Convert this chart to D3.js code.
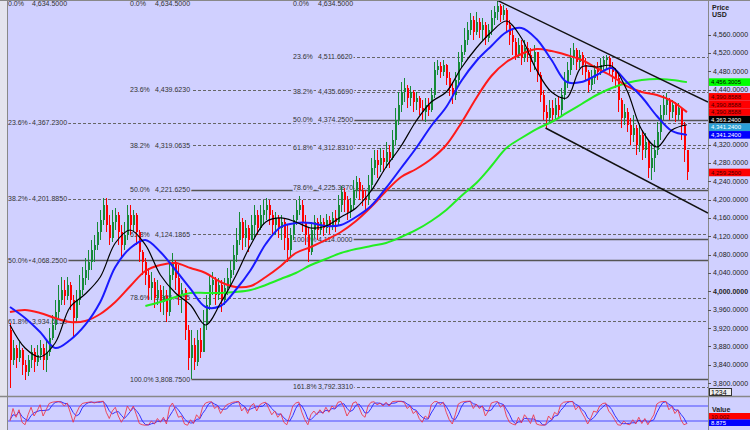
<!DOCTYPE html>
<html><head><meta charset="utf-8">
<script src="https://cdn.jsdelivr.net/npm/d3@7"></script>
<style>body{margin:0;background:#fff}svg{display:block}text{font-family:"Liberation Sans",Arial,sans-serif}</style>
</head><body>
<svg id="c" width="750" height="430"></svg>
<script>
// ---------- DATA ----------
const firstOpen = 3915.7;
const closes = [3850.3,3876.4,3854.6,3872.1,3839.4,3824.1,3850.3,3867.7,3845.9,3861.2,3876.4,3850.3,3867.7,3898.2,3926.6,3954.9,3981.1,4002.9,3989.8,4013.8,
3981.1,3941.8,3981.1,4002.9,4029.1,4046.5,4064.0,4090.2,4101.1,4129.4,4155.6,4188.3,4144.7,4116.3,4151.2,4166.5,4129.4,4101.1,4122.9,4166.5,
4144.7,4166.5,4129.4,4085.8,4064.0,4035.6,4007.3,4020.4,3985.5,4002.9,3976.7,3989.8,3954.9,4035.6,4064.0,4029.1,3992.0,4002.9,3915.7,3854.6,
3883.0,3845.9,3893.9,3867.7,3926.6,3970.2,4013.8,4024.7,3992.0,4013.8,3981.1,4007.3,4029.1,4046.5,4079.3,4112.0,4151.2,4116.3,4138.1,4112.0,
4144.7,4166.5,4138.1,4166.5,4177.4,4188.3,4166.5,4144.7,4160.0,4138.1,4151.2,4116.3,4090.2,4122.9,4155.6,4177.4,4188.3,4151.2,4122.9,4085.8,
4133.8,4151.2,4133.8,4151.2,4138.1,4155.6,4142.5,4160.0,4151.2,4188.3,4216.6,4199.2,4173.0,4188.3,4221.0,4238.5,4221.0,4203.6,4199.2,4231.9,
4269.0,4286.4,4275.5,4290.8,4282.1,4303.9,4290.8,4330.1,4373.7,4406.4,4434.7,4443.5,4421.7,4434.7,4412.9,4421.7,4399.9,4391.1,4406.4,4395.5,
4428.2,4482.7,4491.5,4478.4,4493.6,4465.3,4443.5,4428.2,4460.9,4500.2,4522.0,4548.2,4570.0,4591.8,4565.6,4587.4,4570.0,4580.9,4552.5,4570.0,
4596.1,4609.2,4622.3,4602.7,4613.6,4580.9,4559.1,4543.8,4515.4,4537.3,4508.9,4530.7,4515.4,4500.2,4522.0,4471.8,4428.2,4391.1,4378.0,4399.9,
4384.6,4406.4,4395.5,4428.2,4456.6,4482.7,4508.9,4526.4,4500.2,4515.4,4493.6,4478.4,4450.0,4465.3,4482.7,4478.4,4493.6,4504.5,4508.9,4487.1,
4478.4,4465.3,4417.3,4378.0,4391.1,4362.8,4341.0,4356.2,4319.1,4341.0,4308.2,4325.7,4269.0,4290.8,4308.2,4347.5,4384.6,4406.4,4417.3,4391.1,
4406.4,4384.6,4399.9,4362.8,4308.2,4259.25];
const highs = [3931.0,3893.9,3883.0,3889.5,3876.4,3850.3,3861.2,3883.0,3876.4,3883.0,3893.9,3885.2,3893.9,3920.1,3948.4,3981.1,4013.8,4031.3,4024.7,4031.3,
4020.4,3992.0,4002.9,4035.6,4053.1,4072.7,4090.2,4112.0,4122.9,4151.2,4177.4,4203.6,4203.0,4166.5,4177.4,4181.8,4173.0,4144.7,4151.2,4188.3,
4188.3,4177.4,4170.8,4133.8,4090.2,4072.7,4050.9,4042.2,4029.1,4024.7,4013.8,4011.6,4002.9,4064.0,4083.6,4068.3,4057.4,4018.2,4007.3,3926.6,
3915.7,3898.2,3915.7,3920.1,3959.3,3992.0,4035.6,4042.2,4031.3,4029.1,4024.7,4029.1,4050.9,4068.3,4101.1,4138.1,4173.0,4160.0,4155.6,4144.7,
4166.5,4188.3,4177.4,4188.3,4199.2,4203.6,4199.2,4177.4,4173.0,4166.5,4166.5,4160.0,4144.7,4138.1,4166.5,4199.2,4207.9,4199.2,4166.5,4138.1,
4151.2,4166.5,4160.0,4166.5,4160.0,4168.7,4164.3,4173.0,4177.4,4210.1,4229.7,4225.4,4207.9,4203.6,4242.8,4251.5,4247.2,4231.9,4221.0,4253.7,
4290.8,4308.2,4308.2,4312.6,4308.2,4325.7,4319.1,4351.9,4399.9,4434.7,4456.6,4465.3,4450.0,4447.8,4439.1,4434.7,4426.0,4417.3,4421.7,4421.7,
4443.5,4500.2,4504.5,4500.2,4504.5,4495.8,4478.4,4456.6,4478.4,4522.0,4537.3,4574.3,4587.4,4607.0,4600.5,4609.2,4596.1,4596.1,4587.4,4583.1,
4613.6,4622.3,4634.5,4626.7,4624.5,4618.0,4591.8,4570.0,4552.5,4552.5,4548.2,4548.2,4543.8,4530.7,4537.3,4515.4,4478.4,4439.1,4406.4,4417.3,
4417.3,4421.7,4426.0,4443.5,4478.4,4500.2,4530.7,4541.6,4530.7,4526.4,4522.0,4508.9,4482.7,4482.7,4493.6,4500.2,4508.9,4513.3,4515.4,4513.3,
4500.2,4487.1,4471.8,4421.7,4408.6,4399.9,4378.0,4384.6,4362.8,4362.8,4351.9,4345.3,4330.1,4319.1,4330.1,4369.3,4406.4,4428.2,4432.6,4421.7,
4417.3,4413.0,4410.8,4395.5,4369.3,4308.2];
const lows = [3789.2,3839.4,3832.8,3845.9,3817.5,3806.6,3815.3,3832.8,3824.1,3837.1,3850.3,3828.4,3824.1,3859.0,3893.9,3915.7,3941.8,3970.2,3970.2,3981.1,
3959.3,3900.4,3933.1,3970.2,3992.0,4013.8,4024.7,4046.5,4064.0,4090.2,4112.0,4144.7,4129.4,4101.1,4107.6,4133.8,4101.1,4074.9,4090.2,4112.0,
4122.9,4129.4,4101.1,4064.0,4035.6,4013.8,3981.1,3981.1,3963.7,3970.2,3954.9,3948.4,3933.1,3946.2,4024.7,4002.9,3970.2,3952.8,3893.9,3828.4,
3808.75,3828.4,3837.1,3854.6,3872.1,3915.7,3959.3,3992.0,3970.2,3981.1,3954.9,3970.2,3992.0,4013.8,4035.6,4064.0,4101.1,4090.2,4096.7,4085.8,
4112.0,4118.5,4122.9,4133.8,4144.7,4155.6,4144.7,4122.9,4122.9,4116.3,4112.0,4090.2,4064.0,4072.7,4112.0,4144.7,4166.5,4129.4,4101.1,4064.0,
4079.3,4116.3,4112.0,4122.9,4120.7,4127.2,4125.1,4133.8,4129.4,4144.7,4173.0,4173.0,4155.6,4160.0,4177.4,4203.6,4199.2,4186.1,4177.4,4188.3,
4221.0,4253.7,4247.2,4260.3,4260.3,4269.0,4269.0,4286.4,4319.1,4362.8,4391.1,4412.9,4399.9,4404.2,4391.1,4395.5,4384.6,4373.7,4369.3,4382.4,
4391.1,4421.7,4471.8,4465.3,4469.6,4450.0,4426.0,4408.6,4417.3,4450.0,4487.1,4515.4,4537.3,4559.1,4548.2,4559.1,4552.5,4548.2,4537.3,4543.8,
4559.1,4580.9,4591.8,4587.4,4591.8,4565.6,4537.3,4515.4,4504.5,4508.9,4493.6,4500.2,4500.2,4478.4,4482.7,4456.6,4412.9,4373.7,4356.2,4369.3,
4369.3,4373.7,4378.0,4384.6,4417.3,4443.5,4471.8,4493.6,4482.7,4487.1,4471.8,4460.9,4434.7,4439.1,4452.2,4460.9,4471.8,4478.4,4482.7,4471.8,
4456.6,4443.5,4391.1,4356.2,4362.8,4347.5,4319.1,4325.7,4297.3,4303.9,4286.4,4290.8,4247.2,4242.8,4260.3,4297.3,4330.1,4373.7,4384.6,4373.7,
4378.0,4369.3,4373.7,4330.1,4282.1,4242.8];

// moving averages, one value every 5 bars
const maStep = 5;
const maBlack = [3926.6,3876.4,3856.8,3887.3,3965.8,3994.2,4031.3,4105.4,4133.8,4101.1,4035.6,3996.4,3970.2,3926.6,3974.5,4033.4,4101.1,4151.2,4160.0,4151.2,
4138.1,4142.5,4162.1,4181.8,4218.8,4271.2,4317.0,4371.5,4412.9,4434.7,4487.1,4530.7,4565.6,4589.6,4552.5,4482.7,4434.7,4421.7,4489.3,4489.3,
4491.5,4439.1,4351.9,4314.8,4351.9,4363.24];
const maBlue = [3965.8,3941.8,3911.3,3876.4,3893.9,3926.6,3976.7,4053.1,4094.5,4112.0,4085.8,4046.5,4005.1,3965.8,3968.0,4002.9,4046.5,4103.2,4140.3,4149.0,
4149.0,4142.5,4144.7,4162.1,4186.1,4225.4,4269.0,4312.6,4360.6,4402.0,4458.7,4502.4,4535.1,4565.6,4574.3,4550.3,4504.5,4456.6,4456.6,4471.8,
4487.1,4456.6,4423.8,4382.4,4349.7,4341.24];
const maRed = [3954.9,3959.3,3952.8,3941.8,3933.1,3935.3,3950.6,3976.7,4011.6,4044.4,4057.4,4061.8,4050.9,4040.0,4020.4,4009.5,4011.6,4031.3,4055.3,4083.6,
4096.7,4112.0,4129.4,4153.4,4183.9,4218.8,4249.4,4266.8,4288.6,4319.1,4367.1,4421.7,4469.6,4500.2,4517.6,4528.5,4524.1,4515.4,4504.5,4487.1,
4469.6,4447.8,4434.7,4428.2,4415.1,4390.8588];
const maGreen = [null,null,null,null,null,null,null,null,null,3968.0,3976.7,3987.6,3996.4,3996.4,3996.4,3998.5,4002.9,4013.8,4026.9,4040.0,
4057.4,4070.5,4083.6,4092.3,4098.9,4105.4,4118.5,4133.8,4153.4,4177.4,4207.9,4236.3,4273.3,4312.6,4334.4,4354.0,4369.3,4389.0,4408.6,4428.2,
4443.5,4454.4,4460.9,4463.1,4460.9,4456.3005];

// oscillator (%K red, %D blue), one value per bar
const oscK = [20,70,35,65,15,5,45,75,40,60,85,40,65,90,95,97,98,95,80,92,55,15,50,75,90,93,95,97,92,96,98,99,55,30,60,75,40,15,35,80,
60,80,45,10,5,3,5,20,8,30,15,35,8,75,92,65,35,40,8,3,25,10,45,30,75,92,96,97,70,80,50,70,85,90,95,97,98,60,75,50,
80,90,60,85,92,95,70,45,60,35,50,15,5,40,80,92,96,55,25,5,45,60,45,65,50,75,55,80,70,95,98,75,40,60,92,97,75,45,35,80,
95,97,85,92,80,95,80,97,99,99,98,95,70,80,50,60,30,15,40,30,85,97,98,85,95,55,25,8,45,88,95,98,99,99,70,88,70,80,40,60,
92,96,98,75,85,40,15,8,4,35,12,45,30,10,45,8,4,3,5,40,25,55,45,85,95,97,98,98,65,80,55,35,8,30,60,55,80,90,92,60,
45,25,5,3,20,8,5,25,8,35,10,30,5,25,45,88,96,98,98,65,78,50,65,25,5,10.002];
const oscD = [25,45,42,57,38,28,22,42,53,58,62,62,63,65,83,94,97,97,91,89,76,54,40,47,72,86,93,95,95,95,95,98,84,61,48,55,58,43,30,43,
58,73,62,45,20,6,4,9,11,19,18,27,19,39,58,77,64,47,28,17,12,13,27,28,50,66,88,95,88,82,67,67,68,82,90,94,97,85,78,62,
68,73,77,78,79,91,86,70,58,47,48,33,23,20,42,71,89,81,59,28,25,37,50,57,53,63,60,70,68,82,88,89,71,58,64,83,88,72,52,53,
70,91,92,91,86,89,85,91,92,98,99,97,88,82,67,63,47,35,28,28,52,71,93,93,93,78,58,29,26,47,76,94,97,99,89,86,76,79,63,60,
64,83,95,90,86,67,47,21,9,16,17,31,29,28,28,21,19,5,4,16,23,40,42,62,75,92,97,98,87,81,67,57,33,24,33,48,65,75,87,81,
66,43,25,11,9,10,11,13,13,23,18,25,15,20,25,53,76,94,97,87,80,64,64,47,32,8.875];

// Fibonacci sets
const fibPcts  = [0, 23.6, 38.2, 50, 61.8, 78.6, 100, 161.8];
const fibAPrice = [4634.5, 4367.23, 4201.885, 4068.25, 3934.615];
const fibBPrice = [4634.5, 4439.623, 4319.0635, 4221.625, 4124.1865, 3985.4555, 3808.75];
const fibCPrice = [4634.5, 4511.662, 4435.669, 4374.25, 4312.831, 4225.387, 4114.0, 3792.331];
const solidPcts = [50, 100];

// trend lines [bar index, price]
const trendUpper = [[162, 4634.5], [232, 4413.0]];
const trendLower = [[178, 4356.2], [232, 4170.8]];

// visible price-axis labels (4,360 / 4,400 / 4,600 are hidden behind value boxes / header)
const axisTicks = [3800,3840,3880,3920,3960,4000,4040,4080,4120,4160,4200,4240,4280,4320,4440,4480,4520,4560];
const boldTick = 4000;
// last values shown on the price axis
const lastValues = [4456.3005, 4390.8588, 4390.8588, 4390.8588, 4363.24, 4341.24, 4341.24, 4259.25];
const lastColors = ['#00ff00','#ff0000','#ff0000','#ff0000','#000000','#2a9fd6','#0000ff','#ff0000'];
const lastText   = ['#000','#400','#400','#400','#fff','#fff','#fff','#400'];
const oscLast = [10.002, 8.875];

// ---------- DRAW ----------
const W = 750, H = 430, bg = '#D0D0FF';
const svg = d3.select('#c');
svg.append('rect').attr('width', W).attr('height', H).attr('fill', bg);
svg.append('rect').attr('width', 7).attr('height', H).attr('fill', '#e4e4ee');

const defs = svg.append('defs');
defs.append('clipPath').attr('id','cm').append('rect').attr('x',8).attr('y',0).attr('width',700).attr('height',396);
defs.append('clipPath').attr('id','co').append('rect').attr('x',8).attr('y',397).attr('width',700).attr('height',33);

const x = d3.scaleLinear().domain([0, 232]).range([10, 708]);
const y = d3.scaleLinear().domain([3771.7, 4635.4]).range([396, 0]);
const yo = d3.scaleLinear().domain([0, 100]).range([426, 401]);
const fmt = d3.format(',.4f');

const main = svg.append('g').attr('clip-path','url(#cm)');

function drawFib(prices, pctX, priceX, lineX0) {
  prices.forEach((p, k) => {
    const pct = fibPcts[k];
    const yy = Math.round(y(p)) + 0.5;
    const solid = solidPcts.includes(pct);
    main.append('line').attr('x1', lineX0).attr('x2', 708).attr('y1', yy).attr('y2', yy)
      .attr('stroke', solid ? '#555' : '#666').attr('stroke-width', solid ? 1.3 : 1)
      .attr('stroke-dasharray', solid ? null : '3,2');
    const ty = Math.max(y(p) + 2.5, 5.5);
    const t = main.append('g').attr('font-size', 7).attr('fill', '#333')
      .attr('stroke', bg).attr('stroke-width', 3).attr('paint-order', 'stroke');
    t.append('text').attr('x', pctX).attr('y', ty).text(d3.format('.1f')(pct) + '%');
    t.append('text').attr('x', priceX).attr('y', ty).text(fmt(p));
  });
}
drawFib(fibAPrice, 8, 32, 8);
drawFib(fibBPrice, 130, 155, 188);
drawFib(fibCPrice, 293, 318, 352);

// candles
const bars = closes.map((c, i) => {
  const o = i === 0 ? firstOpen : closes[i - 1];
  return { i, o, c, h: Math.max(highs[i], o, c), l: Math.min(lows[i], o, c) };
});
const cg = main.append('g').attr('shape-rendering', 'crispEdges');
bars.forEach(b => {
  const col = b.c >= b.o ? '#168a38' : '#ff0000';
  const xx = Math.round(x(b.i));
  cg.append('line').attr('x1', xx + 0.5).attr('x2', xx + 0.5).attr('y1', y(b.h)).attr('y2', y(b.l)).attr('stroke', col);
  const top = y(Math.max(b.o, b.c)), bot = y(Math.min(b.o, b.c));
  cg.append('rect').attr('x', xx - 0.5).attr('width', 2).attr('y', top).attr('height', Math.max(1, bot - top)).attr('fill', col);
});

// moving averages
function maLine(vals, color, w) {
  const line = d3.line().defined(d => d != null)
    .x((d, k) => x(k * maStep)).y(d => y(d)).curve(d3.curveCatmullRom.alpha(0.5));
  main.append('path').datum(vals).attr('d', line).attr('fill', 'none').attr('stroke', color).attr('stroke-width', w);
}
maLine(maGreen, '#22ee22', 2);
maLine(maRed, '#ff1a1a', 2);
maLine(maBlue, '#1a1aff', 2);
maLine(maBlack, '#000', 1.2);

// trendlines
[trendUpper, trendLower].forEach(t => {
  main.append('line').attr('x1', x(t[0][0])).attr('y1', y(t[0][1])).attr('x2', x(t[1][0])).attr('y2', y(t[1][1]))
    .attr('stroke', '#111').attr('stroke-width', 1.5);
});

// oscillator panel
const osc = svg.append('g').attr('clip-path','url(#co)');
[20, 80].forEach(v => osc.append('line').attr('x1', 8).attr('x2', 708).attr('y1', yo(v)).attr('y2', yo(v))
  .attr('stroke', '#4a4aff').attr('stroke-width', 1));
const ol = d3.line().x((d, i) => x(i)).y(d => yo(d));
osc.append('path').datum(oscD).attr('d', ol).attr('fill', 'none').attr('stroke', '#3333ff').attr('stroke-width', 1);
osc.append('path').datum(oscK).attr('d', ol).attr('fill', 'none').attr('stroke', '#ee3344').attr('stroke-width', 1).attr('opacity', 0.85);

// frame lines
svg.append('line').attr('x1', 7.5).attr('x2', 7.5).attr('y1', 0).attr('y2', H).attr('stroke', '#888');
svg.append('line').attr('x1', 0).attr('x2', W).attr('y1', 0.5).attr('y2', 0.5).attr('stroke', '#888');
svg.append('line').attr('x1', 0).attr('x2', W).attr('y1', 396.5).attr('y2', 396.5).attr('stroke', '#888').attr('stroke-width', 1.5);
svg.append('line').attr('x1', 708.5).attr('x2', 708.5).attr('y1', 0).attr('y2', H).attr('stroke', '#888');

// price axis
const ax = svg.append('g').attr('font-size', 7).attr('fill', '#222');
axisTicks.forEach(v => {
  const yy = Math.round(y(v)) + 0.5;
  ax.append('line').attr('x1', 708).attr('x2', 711).attr('y1', yy).attr('y2', yy).attr('stroke', '#555');
  ax.append('text').attr('x', 713).attr('y', y(v) + 2.5).attr('font-weight', v === boldTick ? 'bold' : null).text(fmt(v));
});
ax.append('text').attr('x', 712).attr('y', 10).attr('font-weight', 'bold').text('Price');
ax.append('text').attr('x', 712).attr('y', 17).attr('font-weight', 'bold').text('USD');

// last-value boxes, stacked upward when they collide
const bh = 7.6;
const order = d3.range(lastValues.length).sort((a, b) => d3.ascending(lastValues[a], lastValues[b]) || (b - a));
let prev = Infinity;
const pos = [];
order.forEach(k => { const cy = Math.min(y(lastValues[k]), prev - bh); pos[k] = cy; prev = cy; });
lastValues.forEach((v, k) => {
  svg.append('rect').attr('x', 709).attr('y', pos[k] - bh / 2).attr('width', 41).attr('height', bh).attr('fill', lastColors[k]);
  svg.append('text').attr('x', 711).attr('y', pos[k] + 2.1).attr('font-size', 6).attr('fill', lastText[k]).text(fmt(v));
});

// small box near bottom of price panel
svg.append('rect').attr('x', 709.5).attr('y', 388.5).attr('width', 22).attr('height', 7).attr('fill', '#eee').attr('stroke', '#333');
svg.append('text').attr('x', 711).attr('y', 394.5).attr('font-size', 7).attr('fill', '#000').text('1234');

// oscillator value labels
svg.append('text').attr('x', 712).attr('y', 412).attr('font-size', 7).attr('font-weight', 'bold').attr('fill', '#222').text('Value');
svg.append('rect').attr('x', 709).attr('y', 413).attr('width', 41).attr('height', 6.5).attr('fill', '#ff0000');
svg.append('text').attr('x', 711).attr('y', 418.5).attr('font-size', 6).attr('fill', '#400').text(d3.format('.3f')(oscLast[0]));
svg.append('rect').attr('x', 709).attr('y', 419.5).attr('width', 41).attr('height', 6.5).attr('fill', '#0000ff');
svg.append('text').attr('x', 711).attr('y', 425).attr('font-size', 6).attr('fill', '#fff').text(d3.format('.3f')(oscLast[1]));
</script>
</body></html>
